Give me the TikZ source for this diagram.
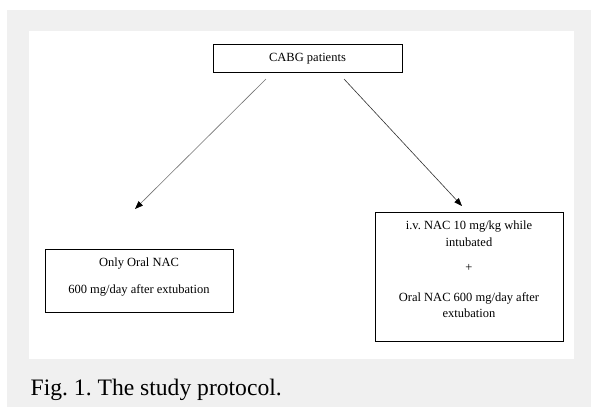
\documentclass[tikz,border=0pt]{standalone}
\usepackage{fontspec}
\setmainfont{Liberation Serif}
\usetikzlibrary{arrows.meta}
\definecolor{bgray}{HTML}{F0F0F0}
\frenchspacing
\tikzset{
  boxshape/.style={draw=black, line width=0.8pt, rectangle, inner sep=0pt},
  boxtext/.style={anchor=base, inner sep=0pt, font=\fontsize{12.5}{16}\selectfont},
  conn/.style={line width=0.6pt, -{Triangle[length=8pt,width=6pt,color=black]}},
}
\begin{document}
\begin{tikzpicture}[x=1pt,y=-1pt]
\useasboundingbox (0,0) rectangle (591,408);
\fill[white] (0,0) rectangle (591,408);
\fill[bgray] (7,10) rectangle (591,407);
\fill[white] (29,31) rectangle (574,359);
% boxes
\node[boxshape, minimum width=189pt, minimum height=28pt] (top) at (307.5,58) {};
\node[boxshape, minimum width=188pt, minimum height=63pt] (left) at (139,280.5) {};
\node[boxshape, minimum width=188pt, minimum height=129pt] (right) at (469,276.5) {};
% texts
\node[boxtext] (ttop) at (307.5,61.5) {CABG patients};
\node[boxtext] (tl1) at (139,266) {Only Oral NAC};
\node[boxtext] (tl2) at (139,293) {600 mg/day after extubation};
\node[boxtext] (tr1) at (469,229) {i.v. NAC 10 mg/kg while};
\node[boxtext] (tr2) at (469,246) {intubated};
\node[boxtext] (tr3) at (469,271.5) {+};
\node[boxtext] (tr4) at (469,301) {Oral NAC 600 mg/day after};
\node[boxtext] (tr5) at (469,317) {extubation};
% connectors
\coordinate (ls) at (266,79);
\coordinate (le) at (135,209);
\coordinate (rs) at (344,79);
\coordinate (re) at (462,206);
\draw[conn, draw=black!55] (ls) -- (le);
\draw[conn, draw=black!80] (rs) -- (re);
% caption
\node[anchor=base west, inner sep=0pt, font=\fontsize{23.6}{28}\selectfont] (cap) at (30.5,395) {Fig. 1. The study protocol.};
\end{tikzpicture}
\end{document}
